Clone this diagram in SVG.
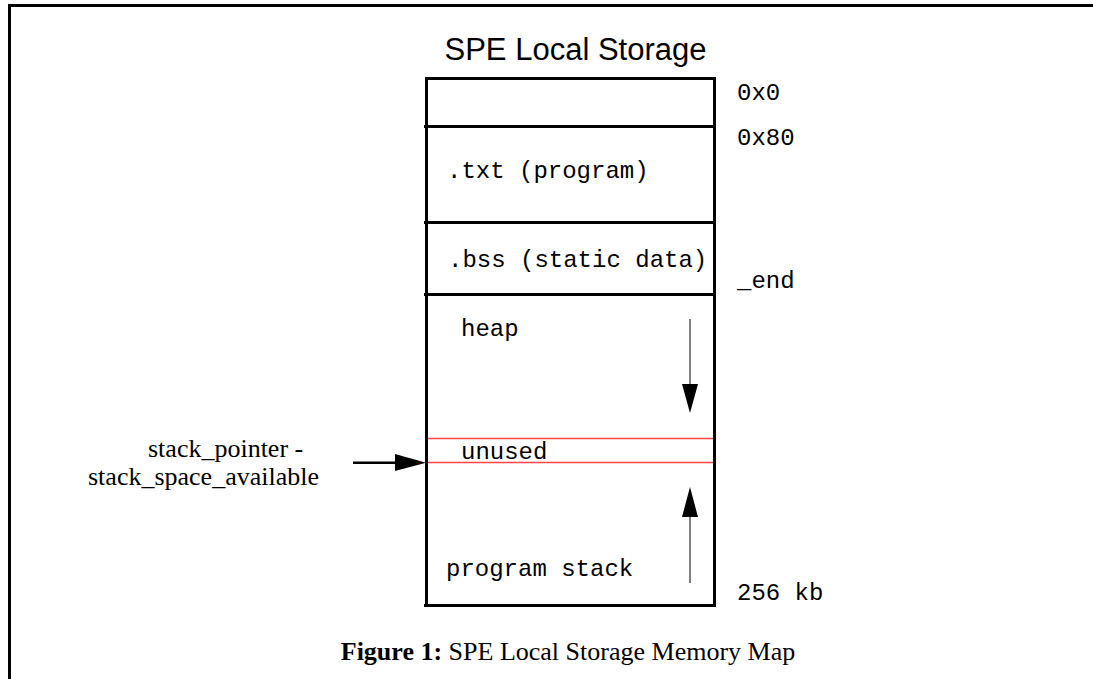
<svg xmlns="http://www.w3.org/2000/svg" width="1093" height="679" viewBox="0 0 1093 679">
<style>
.frame{stroke:#000;stroke-width:3;fill:none}
.box{stroke:#000;stroke-width:3;fill:none}
.red{stroke:#ff4545;stroke-width:1.4}
.grow{stroke:#808080;stroke-width:2}
.mono{font-family:"Liberation Mono","Courier New",monospace;font-size:24px;fill:#000}
.serif{font-family:"Liberation Serif","Times New Roman",serif;font-size:26px;fill:#000}
.sans{font-family:"Liberation Sans",Arial,sans-serif;font-size:31px;fill:#000}
</style>
<rect width="1093" height="679" fill="#fff"/>
<g id="frame">
<path class="frame" d="M9.5,679 V5.5 H1093"/>
</g>
<text id="title" class="sans" x="575.5" y="60" text-anchor="middle">SPE Local Storage</text>
<g id="memory-map">
<path class="box" d="M426.5,78.5 H714.5 V605.5 H424 M426.5,77 V607"/>
<line class="box" x1="424" y1="126.5" x2="714.5" y2="126.5"/>
<line class="box" x1="424" y1="222.5" x2="714.5" y2="222.5"/>
<line class="box" x1="424" y1="294.5" x2="714.5" y2="294.5"/>
<line class="red" x1="428" y1="438.5" x2="713" y2="438.5"/>
<line class="red" x1="428" y1="462.5" x2="713" y2="462.5"/>
</g>
<g id="seg-txt"><text class="mono" x="447" y="178">.txt (program)</text></g>
<g id="seg-bss"><text class="mono" x="448" y="267">.bss (static data)</text></g>
<g id="seg-heap"><text class="mono" x="461" y="336">heap</text></g>
<g id="seg-unused"><text class="mono" x="461" y="459">unused</text></g>
<g id="seg-stack"><text class="mono" x="446" y="576">program stack</text></g>
<g id="addresses">
<text class="mono" x="737" y="100">0x0</text>
<text class="mono" x="737" y="145">0x80</text>
<text class="mono" x="737" y="288">_end</text>
<text class="mono" x="737" y="600">256 kb</text>
</g>
<g id="label-sp">
<text class="serif" x="148" y="457">stack_pointer -</text>
<text class="serif" x="88" y="485">stack_space_available</text>
</g>
<g id="connectors">
<line class="grow" x1="690" y1="319" x2="690" y2="386"/>
<polygon points="682,384 698,384 690,413" fill="#000"/>
<line class="grow" x1="690" y1="515" x2="690" y2="583"/>
<polygon points="690,487 682,517 698,517" fill="#000"/>
<line x1="353" y1="462.7" x2="397" y2="462.7" stroke="#000" stroke-width="2.5"/>
<polygon points="395,454 426,462.7 395,471" fill="#000"/>
</g>
<text id="caption" class="serif" x="568" y="660" text-anchor="middle"><tspan font-weight="bold">Figure 1:</tspan> SPE Local Storage Memory Map</text>
</svg>
